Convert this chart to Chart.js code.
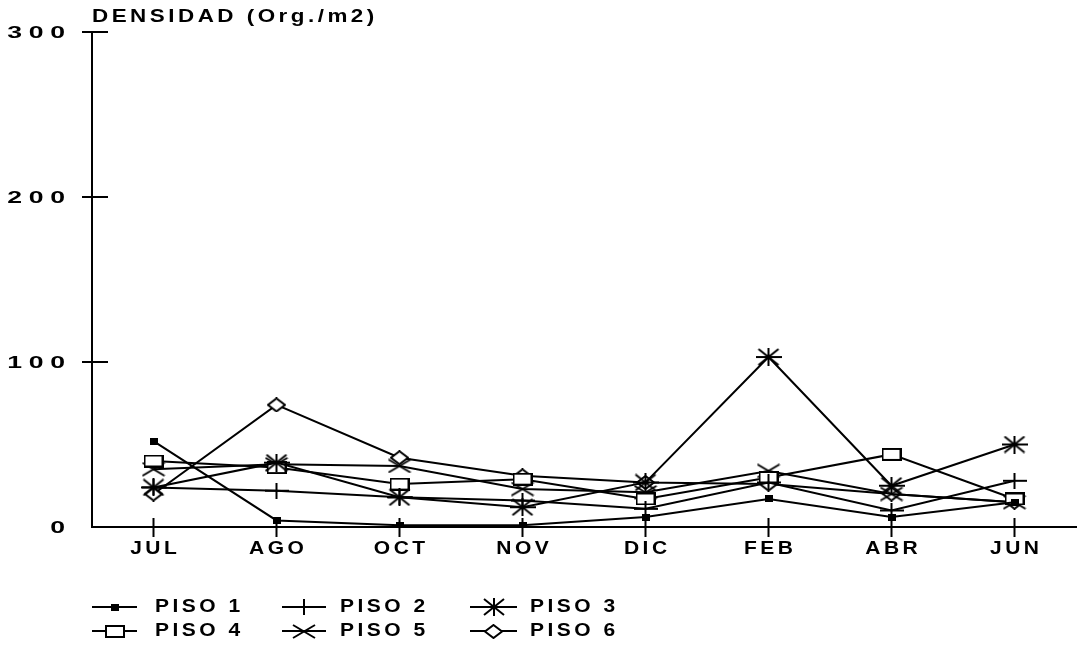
<!DOCTYPE html>
<html>
<head>
<meta charset="utf-8">
<script src="https://cdn.jsdelivr.net/npm/chart.js@4/dist/chart.umd.min.js"></script>
<style>
  html, body { margin: 0; padding: 0; background: #fff; }
  #wrap { width: 1086px; height: 647px; }
</style>
</head>
<body>
<div id="wrap"><canvas id="chart" width="1086" height="647"></canvas></div>
<script>
// data
const months = ['JUL', 'AGO', 'OCT', 'NOV', 'DIC', 'FEB', 'ABR', 'JUN'];
const yTicks = [0, 100, 200, 300];
const seriesNames = ['PISO 1', 'PISO 2', 'PISO 3', 'PISO 4', 'PISO 5', 'PISO 6'];
const piso1 = [52, 4, 1, 1, 6, 17, 6, 15];
const piso2 = [24, 22, 18, 16, 11, 27, 10, 28];
const piso3 = [24, 39, 18, 12, 27, 103, 25, 50];
const piso4 = [40, 36, 26, 29, 17, 30, 44, 17];
const piso5 = [35, 38, 37, 23, 21, 34, 20, 15];
const piso6 = [20, 74, 42, 31, 27, 26, 20, 15];
const yTitle = 'DENSIDAD (Org./m2)';

// marker glyphs
function mk(w, h, fn) {
  const c = document.createElement('canvas');
  c.width = w; c.height = h;
  const g = c.getContext('2d');
  g.strokeStyle = '#000';
  g.fillStyle = '#000';
  g.lineWidth = 2;
  fn(g, w, h);
  return c;
}
function seg(g, x1, y1, x2, y2) {
  g.beginPath(); g.moveTo(x1, y1); g.lineTo(x2, y2); g.stroke();
}
const markers = [
  mk(8, 7, function (g, w, h) { g.fillRect(0, 0, w, h); }),
  mk(24, 16, function (g, w, h) { seg(g, 0, h / 2, w, h / 2); seg(g, w / 2, 0, w / 2, h); }),
  mk(26, 18, function (g, w, h) {
    seg(g, 0, h / 2, w, h / 2); seg(g, w / 2, 0, w / 2, h);
    seg(g, 3, 1, w - 3, h - 1); seg(g, w - 3, 1, 3, h - 1);
  }),
  mk(20, 13, function (g, w, h) {
    g.fillStyle = '#fff'; g.fillRect(1, 1, w - 2, h - 2);
    g.strokeRect(1, 1, w - 2, h - 2);
  }),
  mk(24, 15, function (g, w, h) { seg(g, 1, 1, w - 1, h - 1); seg(g, w - 1, 1, 1, h - 1); }),
  mk(19, 15, function (g, w, h) {
    g.beginPath();
    g.moveTo(w / 2, 1); g.lineTo(w - 1, h / 2); g.lineTo(w / 2, h - 1); g.lineTo(1, h / 2);
    g.closePath();
    g.fillStyle = '#fff'; g.fill(); g.stroke();
  })
];

function wideText(ctx, text, x, y, align, size, stretch, spacing) {
  ctx.save();
  ctx.font = 'bold ' + size + 'px "Liberation Sans", Arial, sans-serif';
  ctx.letterSpacing = spacing + 'px';
  ctx.fillStyle = '#000';
  ctx.textBaseline = 'middle';
  ctx.textAlign = 'left';
  const w = (ctx.measureText(text).width - spacing) * stretch;
  let left = x;
  if (align === 'center') left = x - w / 2;
  if (align === 'right') left = x - w;
  ctx.translate(left, y);
  ctx.scale(stretch, 1.2);
  ctx.fillText(text, 0, 0);
  ctx.restore();
}

const decor = {
  id: 'decor',
  afterDraw(chart) {
    const ctx = chart.ctx;
    const xs = chart.scales.x;
    const ys = chart.scales.y;
    const ax = chart.chartArea.left;
    const ay = chart.chartArea.bottom;
    ctx.save();
    ctx.strokeStyle = '#000';
    ctx.lineWidth = 2;
    // y ticks and labels
    yTicks.forEach(function (v) {
      const py = ys.getPixelForValue(v);
      if (v > 0) seg(ctx, ax - 10, py, ax + 16, py);
      wideText(ctx, String(v), 65, py + 1, 'right', 14, 1.9, 3.5);
    });
    // x ticks and labels
    months.forEach(function (m, i) {
      const px = xs.getPixelForTick(i);
      seg(ctx, px, ay - 9, px, ay + 10);
      wideText(ctx, m, px, 549, 'center', 15, 1.4, 2.5);
    });
    // y title
    wideText(ctx, yTitle, ax, 17, 'left', 16, 1.4, 2.5);
    // legend
    const cols = [[92, 137, 155], [282, 326, 340], [470, 517, 530]];
    const rows = [607, 631];
    seriesNames.forEach(function (name, i) {
      const c = cols[i % 3];
      const y = rows[Math.floor(i / 3)];
      seg(ctx, c[0], y, c[1], y);
      const mkc = markers[i];
      const cx = (c[0] + c[1]) / 2;
      ctx.drawImage(mkc, Math.round(cx - mkc.width / 2), Math.round(y - mkc.height / 2));
      wideText(ctx, name, c[2], y, 'left', 15, 1.4, 2.5);
    });
    ctx.restore();
  }
};

const allSeries = [piso1, piso2, piso3, piso4, piso5, piso6];
const datasets = allSeries.map(function (vals, i) {
  return {
    label: seriesNames[i],
    data: vals,
    borderColor: '#000',
    borderWidth: 2,
    backgroundColor: '#fff',
    pointStyle: markers[i],
    pointRadius: 8,
    tension: 0,
    fill: false
  };
});

new Chart(document.getElementById('chart'), {
  type: 'line',
  data: { labels: months, datasets: datasets },
  options: {
    responsive: false,
    animation: false,
    layout: { padding: { top: 32, right: 0, bottom: 0, left: 0 } },
    plugins: { legend: { display: false }, tooltip: { enabled: false } },
    scales: {
      x: {
        offset: true,
        grid: { display: false, drawTicks: false },
        border: { display: true, color: '#000', width: 2 },
        ticks: { display: false },
        afterFit: function (s) { s.height = 120; }
      },
      y: {
        min: 0,
        max: 300,
        grid: { display: false, drawTicks: false },
        border: { display: true, color: '#000', width: 2 },
        ticks: { display: false, stepSize: 100 },
        afterFit: function (s) { s.width = 92; }
      }
    }
  },
  plugins: [decor]
});
</script>
</body>
</html>
